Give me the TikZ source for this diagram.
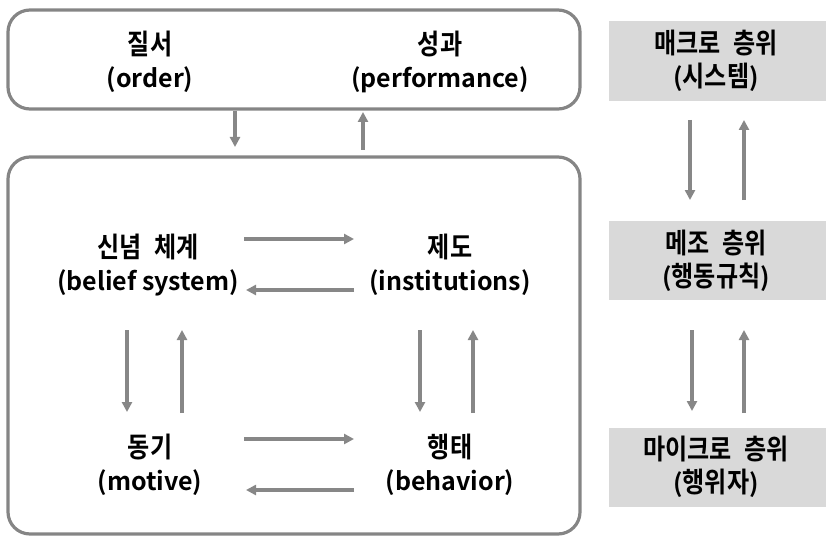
\documentclass[tikz,border=0pt]{standalone}
\usepackage{fontspec}
\setmainfont{Noto Sans CJK KR}[BoldFont={* Bold}]
\newfontfamily\krfont{Noto Sans CJK KR}[FakeStretch=0.86,BoldFont={* Bold},BoldFeatures={FakeStretch=0.86}]
\newcommand{\kr}[1]{{\krfont\fontsize{28}{33}\selectfont\bfseries #1}}
\newcommand{\ksp}{\hspace{0.45em}}
\usetikzlibrary{arrows.meta}
\definecolor{bordergray}{HTML}{858585}
\definecolor{arrgray}{HTML}{878787}
\definecolor{boxgray}{HTML}{D9D9D9}
\tikzset{
  lbl/.style={align=center,font=\fontsize{25}{33}\selectfont\bfseries,inner sep=0pt},
  frame/.style={draw=bordergray,line width=3.2pt,rounded corners=22pt},
  levelbox/.style={fill=boxgray,draw=none},
  arr/.style={draw=arrgray,line width=3.2pt,-{Triangle[length=10pt,width=10pt]}}
}
\begin{document}
\begin{tikzpicture}[x=1pt,y=-1pt]
\useasboundingbox (0,0) rectangle (829,540);
% frames
\draw[frame] (8,10) rectangle (580,109);
\draw[frame] (8,157) rectangle (580,534);
% level boxes
\fill[levelbox] (609,21) rectangle (826,101);
\fill[levelbox] (609,221) rectangle (826,300);
\fill[levelbox] (609,428) rectangle (826,507);
% labels
\node[lbl] (ord) at (150,62) {\kr{질서}\\(order)};
\node[lbl] (perf) at (440,62) {\kr{성과}\\(performance)};
\node[lbl] (bel) at (148,265) {\kr{신념\ksp 체계}\\(belief system)};
\node[lbl] (inst) at (450,265) {\kr{제도}\\(institutions)};
\node[lbl] (mot) at (150,465) {\kr{동기}\\(motive)};
\node[lbl] (beh) at (450,465) {\kr{행태}\\(behavior)};
\node[lbl] (macro) at (716,61) {\kr{매크로\ksp 층위}\\(\kr{시스템})};
\node[lbl] (meso) at (716,261) {\kr{메조\ksp 층위}\\(\kr{행동규칙})};
\node[lbl] (micro) at (716,467) {\kr{마이크로\ksp 층위}\\(\kr{행위자})};
% arrow ends
\coordinate (t1a) at (235,111); \coordinate (t1b) at (235,147);
\coordinate (t2a) at (363,150); \coordinate (t2b) at (363,112);
\coordinate (h1a) at (244,239); \coordinate (h1b) at (354,239);
\coordinate (h2a) at (354,290); \coordinate (h2b) at (246,290);
\coordinate (h3a) at (244,439); \coordinate (h3b) at (354,439);
\coordinate (h4a) at (354,490); \coordinate (h4b) at (246,490);
\coordinate (v1a) at (127,330); \coordinate (v1b) at (127,412);
\coordinate (v2a) at (182,413); \coordinate (v2b) at (182,330);
\coordinate (v3a) at (420,330); \coordinate (v3b) at (420,412);
\coordinate (v4a) at (473,413); \coordinate (v4b) at (473,330);
\coordinate (r1a) at (690,120); \coordinate (r1b) at (690,200);
\coordinate (r2a) at (744,200); \coordinate (r2b) at (744,120);
\coordinate (r3a) at (692,330); \coordinate (r3b) at (692,411);
\coordinate (r4a) at (744,413); \coordinate (r4b) at (744,330);
\foreach \s/\e in {t1a/t1b,t2a/t2b,h1a/h1b,h2a/h2b,h3a/h3b,h4a/h4b,v1a/v1b,v2a/v2b,v3a/v3b,v4a/v4b,r1a/r1b,r2a/r2b,r3a/r3b,r4a/r4b}
  \draw[arr] (\s) -- (\e);
\end{tikzpicture}
\end{document}
